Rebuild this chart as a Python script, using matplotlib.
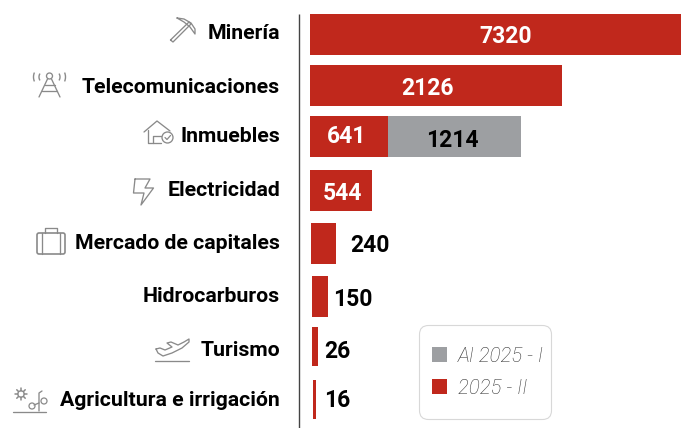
import numpy as np
import matplotlib
matplotlib.use("Agg")
import matplotlib.pyplot as plt
from matplotlib.patches import Circle, FancyBboxPatch, Arc

categories = ["Minería", "Telecomunicaciones", "Inmuebles", "Electricidad",
              "Mercado de capitales", "Hidrocarburos", "Turismo", "Agricultura e irrigación"]
values_2025_ii = [7320, 2126, 641, 544, 240, 150, 26, 16]
values_2025_i = [0, 0, 1214, 0, 0, 0, 0, 0]
legend_labels = ["AI 2025 - I", "2025 - II"]

# The published chart is not drawn to a linear scale: value -> pixels from the axis start
SCALE_VALUES = [0, 16, 26, 150, 240, 544, 641, 1855, 2126, 7320]
SCALE_PIXELS = [0, 6, 8, 17.5, 26, 62, 78, 210.5, 251.5, 371]

ROW_Y = [34.5, 85.5, 136.5, 190.5, 243.5, 296.5, 346.5, 399.5]
ROW_H = [41, 41, 41, 41, 41, 41, 39, 39]
INSET = [0, 0, 0, 0, 1, 2, 2, 3]
LABEL_Y = [33, 87, 137, 190, 243, 296, 350, 400.5]
VALUE_POS = [(505.5, 36), (428, 88), (347, 136.5), (342, 193.5), (369.5, 245.5), (353, 299.5), (337, 351.5), (337, 400.5)]
VALUE_COL = ["white", "white", "white", "white", "black", "black", "black", "black"]
RED, GREY, ICON = "#C0281C", "#9D9FA2", "#8A8A8A"
FONT = "Roboto"

def fwd(v):
    return np.interp(v, SCALE_VALUES, SCALE_PIXELS)
def inv(p):
    return np.interp(p, SCALE_PIXELS, SCALE_VALUES)

W, H = 681, 428
fig = plt.figure(figsize=(W / 100, H / 100), dpi=100)
ax = fig.add_axes([310 / W, 0, 371 / W, 1])
ax.set_xscale("function", functions=(fwd, inv))
ax.set_xlim(0, 7320)
ax.set_ylim(H, 0)
ax.axis("off")

ov = fig.add_axes([0, 0, 1, 1], zorder=3)
ov.set_xlim(0, W)
ov.set_ylim(H, 0)
ov.axis("off")
ov.patch.set_alpha(0)

lefts = inv(np.array(INSET, dtype=float))
red = ax.barh(ROW_Y, np.array(values_2025_ii) - lefts, left=lefts, height=ROW_H, color=RED, linewidth=0)
grey = ax.barh(ROW_Y[2], values_2025_i[2], left=values_2025_ii[2], height=ROW_H[2], color=GREY, linewidth=0)

ov.plot([299, 299], [14, 428], color="#444444", lw=1.0, solid_capstyle="butt")

for name, y in zip(categories, LABEL_Y):
    ov.text(280, y, name, ha="right", va="center", fontsize=15.3, fontweight="bold",
            family=FONT, color="black")
for v, (x, y), c in zip(values_2025_ii, VALUE_POS, VALUE_COL):
    ov.text(x, y, str(v), ha="center", va="center", fontsize=16.5, fontweight="bold", family=FONT, color=c)
ov.text(452.5, 140.5, str(values_2025_i[2]), ha="center", va="center", fontsize=16.5,
        fontweight="bold", family=FONT, color="black")

# legend
ov.add_patch(FancyBboxPatch((419.5, 325.5), 132, 94, boxstyle="round,pad=0,rounding_size=9",
                            fc="white", ec="#D8D8D8", lw=0.8))
leg = ov.legend([grey, red], legend_labels, loc="upper left", bbox_to_anchor=(431, 346),
                bbox_transform=ov.transData, frameon=False,
                prop={"family": "Roboto", "style": "italic", "weight": "light", "size": 14.7},
                labelcolor="#333333", handlelength=0.75, handleheight=0.75, handletextpad=0.5,
                labelspacing=0.62, borderpad=0.05, borderaxespad=0)

def line(pts, lw=0.95):
    xs, ys = zip(*pts)
    ov.plot(xs, ys, color=ICON, lw=lw, solid_capstyle="round", solid_joinstyle="round")
def circ(x, y, r, lw=0.95):
    ov.add_patch(Circle((x, y), r, fc="none", ec=ICON, lw=lw))

# pickaxe
line([(170.5, 40), (173, 42), (191, 24), (189, 22), (170.5, 40)])
line([(177, 18), (184, 19), (191, 23), (195, 29), (195, 34), (190, 27), (184, 22), (177, 18)])
# tower
circ(49.5, 76, 3)
line([(47.5, 79), (39, 97)]); line([(51.5, 79), (60, 97)])
line([(44.5, 85), (54.5, 85)]); line([(42, 90.5), (57, 90.5)])
ov.add_patch(Arc((37, 77), 7, 13, theta1=120, theta2=240, ec=ICON, lw=1.0))
ov.add_patch(Arc((42, 77), 6, 9, theta1=120, theta2=240, ec=ICON, lw=1.0))
ov.add_patch(Arc((62, 77), 7, 13, theta1=-60, theta2=60, ec=ICON, lw=1.0))
ov.add_patch(Arc((57, 77), 6, 9, theta1=-60, theta2=60, ec=ICON, lw=1.0))
# house
line([(144, 132), (157, 121), (170, 131)])
line([(148, 130), (148, 143), (161, 143)])
line([(153, 143), (153, 136), (161, 136)])
circ(167.5, 137.5, 5.5)
line([(165, 137.5), (167, 139.5), (170.5, 135.5)], lw=0.9)
# bolt
line([(135, 179), (150, 179), (145, 188), (153.5, 188), (141, 205), (144, 193), (133.5, 193), (135, 179)])
# briefcase
ov.add_patch(FancyBboxPatch((37, 233), 28, 21, boxstyle="round,pad=0,rounding_size=2", fc="none", ec=ICON, lw=1.2))
line([(45, 233), (45, 228), (57, 228), (57, 233)])
line([(42, 233), (42, 254)]); line([(60, 233), (60, 254)])
# plane
line([(155, 361), (189, 361)])
line([(156, 349), (160, 348), (165, 350), (172, 347), (167, 343), (171, 342), (178, 345), (184, 342),
      (189, 339), (189, 342), (182, 348), (172, 353), (163, 356), (158, 353), (156, 349)])
# agriculture
line([(13, 412), (46, 412)])
circ(21, 394, 3.2)
for a in np.deg2rad(np.arange(0, 360, 45)):
    line([(21 + 3.4 * np.cos(a), 394 + 3.4 * np.sin(a)), (21 + 6 * np.cos(a), 394 + 6 * np.sin(a))], lw=1.1)
line([(39, 411), (39, 393), (42, 391)])
line([(39, 403), (34, 405)]); circ(32, 406, 3, lw=0.9)
circ(44, 401, 3, lw=0.9)

fig.savefig("out.png", dpi=100)
